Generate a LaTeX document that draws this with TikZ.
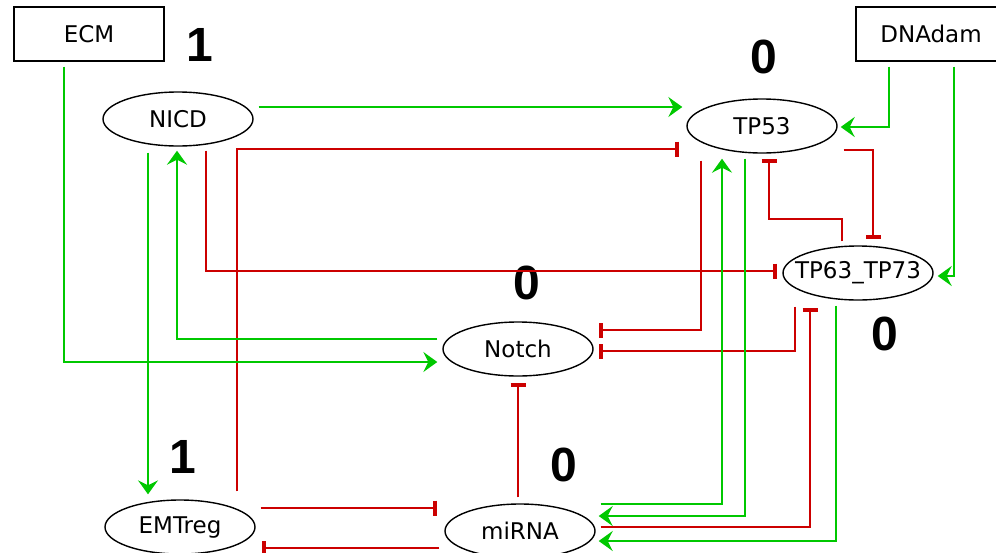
\documentclass[tikz,border=0pt]{standalone}
\usepackage{fontspec}
\setmainfont{DejaVu Sans}
\newfontfamily\numfont{Liberation Sans}
\usetikzlibrary{arrows.meta,shapes.geometric}
\definecolor{actcol}{RGB}{0,200,0}
\definecolor{inhcol}{RGB}{204,0,0}

\begin{document}
\begin{tikzpicture}[x=0.5pt,y=-0.5pt,
  gene/.style={draw,ellipse,line width=0.7pt,minimum width=75pt,
    minimum height=27pt,inner sep=0pt,font=\fontsize{11.5}{12}\selectfont},
  input/.style={draw,rectangle,line width=0.7pt,minimum width=75pt,
    minimum height=27pt,inner sep=0pt,font=\fontsize{11.5}{12}\selectfont},
  act/.style={actcol,line width=1pt,-{Stealth[length=7pt,width=10pt,inset=2.5pt]}},
  inh/.style={inhcol,line width=1pt,-{Bar[width=7.5pt,line width=2pt]}},
  val/.style={font=\numfont\bfseries\fontsize{24}{24}\selectfont}]
  \useasboundingbox (0,0) rectangle (996,552);
  \node[input] (ECM) at (89,34){ECM};
  \node[input] (DNAdam) at (931,34){DNAdam};
  \node[gene] (NICD) at (178,119){NICD};
  \node[gene] (TP53) at (762,126){TP53};
  \node[gene,inner xsep=-5pt] (TP63) at (858,273){TP63\_TP73};
  \node[gene] (Notch) at (518,349){Notch};
  \node[gene] (EMTreg) at (180,527){EMTreg};
  \node[gene] (miRNA) at (520,531){miRNA};
  \node[val] (vECM) at (200,45){1};
  \node[val] (vTP53) at (764,57){0};
  \node[val] (vNotch) at (527,283){0};
  \node[val] (vTP63) at (885,334){0};
  \node[val] (vEMTreg) at (183,457){1};
  \node[val] (vmiRNA) at (564,465){0};
  \draw[act]([shift={(5,-12)}]NICD.east)--([shift={(-4,-19)}]TP53.west);
  \draw[act]([shift={(-42,5)}]DNAdam.south)|-([shift={(3,1)}]TP53.east);
  \draw[act]([shift={(23,5)}]DNAdam.south)|-([shift={(4,3)}]TP63.east);
  \draw[inh]([shift={(6,24)}]TP53.east)-|([shift={(15,-6)}]TP63.north);
  \draw[inh]([shift={(-16,-4)}]TP63.north)--++(0,-22)-|([shift={(7,5)}]TP53.south);
  \draw[inh]([shift={(57,-8)}]EMTreg.north)|-([shift={(-7,23)}]TP53.west);
  \draw[inh]([shift={(28,4)}]NICD.south)|-([shift={(-5,-2)}]TP63.west);
  \draw[inh]([shift={(-61,7)}]TP53.south)|-([shift={(5,-19)}]Notch.east);
  \draw[inh]([shift={(-63,6)}]TP63.south)|-([shift={(5,2)}]Notch.east);
  \draw[inh]([shift={(-2,-6)}]miRNA.north)--([shift={(0,6)}]Notch.south);
  \draw[act]([shift={(-5,-10)}]Notch.west)-|([shift={(-1,4)}]NICD.south);
  \draw[act]([shift={(-25,5)}]ECM.south)|-([shift={(-5,13)}]Notch.west);
  \draw[act]([shift={(-30,6)}]NICD.south)--([shift={(-32,-5)}]EMTreg.north);
  \draw[inh]([shift={(5,-19)}]EMTreg.east)--([shift={(-7,-23)}]miRNA.west);
  \draw[inh]([shift={(-5,17)}]miRNA.west)--([shift={(6,21)}]EMTreg.east);
  \draw[act]([shift={(5,-27)}]miRNA.east)-|([shift={(-40,5)}]TP53.south);
  \draw[act]([shift={(-17,5)}]TP53.south)|-([shift={(3,-15)}]miRNA.east);
  \draw[inh]([shift={(5,-4)}]miRNA.east)-|([shift={(-48,7)}]TP63.south);
  \draw[act]([shift={(-22,5)}]TP63.south)|-([shift={(3,10)}]miRNA.east);
\end{tikzpicture}
\end{document}
